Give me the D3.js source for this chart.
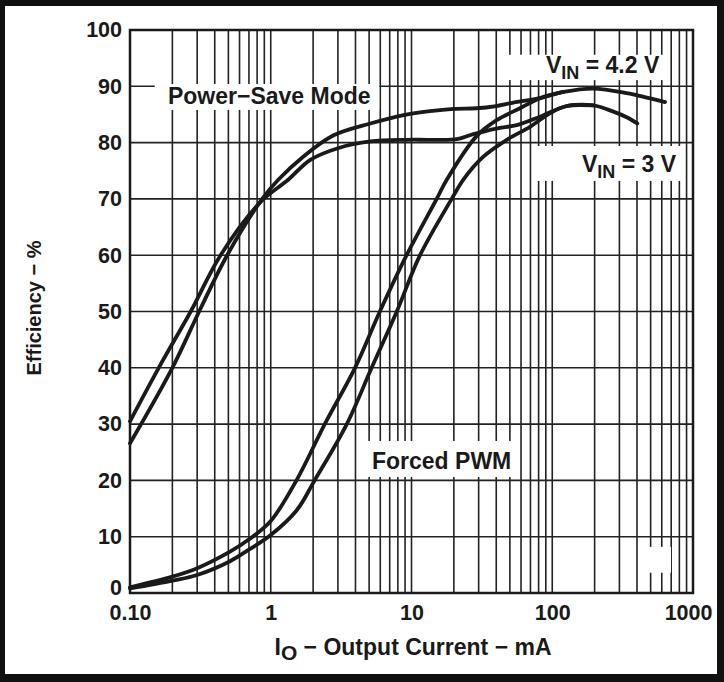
<!DOCTYPE html>
<html>
<head>
<meta charset="utf-8">
<script src="https://cdn.jsdelivr.net/npm/d3@7"></script>
<style>
  body { margin: 0; background: #111; }
  svg { display: block; }
  text { font-family: "Liberation Sans", Arial, sans-serif; font-weight: bold; fill: #1a1a1a; }
</style>
</head>
<body>
<svg id="chart" width="724" height="682"></svg>
<script>
// efficiency curves, [output current mA, efficiency %]
var psm42 = [[0.1, 26.6], [0.2, 40], [0.31, 50], [0.49, 60], [0.87, 70], [1.13, 73.4], [1.7, 77.5], [2.8, 81.3], [5.1, 83.4], [8.8, 84.9], [13.5, 85.6], [20, 86], [29, 86.1], [40, 86.5], [53, 87.1], [82, 87.9], [120, 89], [196, 89.6], [338, 88.8], [469, 88], [633, 87.2]];
var psm3 = [[0.1, 30.5], [0.16, 40], [0.27, 50], [0.44, 60], [0.85, 69.5], [1.33, 73.4], [1.9, 76.9], [3, 79], [5.1, 80.2], [9.2, 80.5], [13.5, 80.5], [21, 80.6], [27.5, 81.5], [40, 82.5], [56, 83.1], [82, 84.6], [127, 86.5], [196, 86.6], [272, 85.5], [338, 84.5], [402, 83.4]];
var pwm42 = [[0.1, 1], [0.2, 2.9], [0.3, 4.4], [0.51, 7.3], [0.69, 9.4], [1, 12.8], [1.53, 20.1], [2.42, 30], [3.97, 40], [5.96, 50], [9.23, 60], [15.1, 70], [17.8, 73.4], [29.1, 81.2], [40.3, 84], [59, 86.1], [82, 87.9], [120, 89]];
var pwm3 = [[0.1, 0.8], [0.2, 2.2], [0.3, 3.2], [0.51, 5.6], [0.69, 7.6], [1, 10.3], [1.53, 14.7], [2.06, 20.1], [3.47, 30], [5.21, 40], [7.86, 50], [11.5, 60], [19.3, 70], [23.3, 73.4], [32.4, 77.5], [47.5, 80.5], [69.5, 82.8], [96, 85.2], [127, 86.5], [196, 86.6]];

var xTicks = [0.1, 1, 10, 100, 1000];
var xTickLabels = ["0.10", "1", "10", "100", "1000"];
var yTicks = [0, 10, 20, 30, 40, 50, 60, 70, 80, 90, 100];

var svg = d3.select("#chart");
var L = 130, T = 30, W = 563, H = 563;

var x = d3.scaleLog().domain([0.1, 1000]).range([L, L + W]);
var y = d3.scaleLinear().domain([0, 100]).range([T + H, T]);

// white page inside the dark frame
svg.append("rect").attr("x", 5).attr("y", 6).attr("width", 712).attr("height", 668).attr("fill", "#fff");

// grid
var grid = svg.append("g").attr("stroke", "#222").attr("stroke-width", 1.6);
grid.selectAll(".gx").data(x.ticks()).enter().append("line")
  .attr("x1", d => x(d)).attr("x2", d => x(d)).attr("y1", T).attr("y2", T + H);
grid.selectAll(".gy").data(yTicks).enter().append("line")
  .attr("x1", L).attr("x2", L + W).attr("y1", d => y(d)).attr("y2", d => y(d));

// white boxes behind the labels (they cut the grid)
var boxes = [
  [0.15, 5.9, 90.4, 85.8],
  [49, 653, 95.6, 91.1],
  [78, 877, 79.4, 73.2],
  [4.6, 57, 27, 20.6],
  [471, 698, 8.2, 3.6]
];
svg.append("g").selectAll("rect").data(boxes).enter().append("rect")
  .attr("x", d => x(d[0])).attr("width", d => x(d[1]) - x(d[0]))
  .attr("y", d => y(d[2])).attr("height", d => y(d[3]) - y(d[2]))
  .attr("fill", "#fff");

// curves
var line = d3.line().x(d => x(d[0])).y(d => y(d[1])).curve(d3.curveCatmullRom.alpha(0.5));
svg.append("g").selectAll("path").data([psm42, psm3, pwm42, pwm3]).enter().append("path")
  .attr("d", line).attr("fill", "none").attr("stroke", "#1a1a1a").attr("stroke-width", 3.8)
  .attr("stroke-linecap", "round");

// frame
svg.append("rect").attr("x", L).attr("y", T).attr("width", W).attr("height", H)
  .attr("fill", "none").attr("stroke", "#1a1a1a").attr("stroke-width", 2.5);

// axes
var yAxis = svg.append("g").attr("transform", "translate(" + L + ",0)")
  .call(d3.axisLeft(y).tickValues(yTicks).tickSize(0).tickPadding(8));
var xAxis = svg.append("g").attr("transform", "translate(0," + (T + H) + ")")
  .call(d3.axisBottom(x).tickValues(xTicks).tickSize(0).tickPadding(12).tickFormat((d, i) => xTickLabels[i]));
[yAxis, xAxis].forEach(a => {
  a.select(".domain").remove();
  a.selectAll("text").attr("font-size", 21.5).attr("font-family", null).attr("fill", "#1a1a1a");
});
yAxis.selectAll(".tick text").filter(d => d === 0).attr("dy", "0.06em");
xAxis.selectAll(".tick text").filter(d => d === 1000).attr("text-anchor", "end").attr("x", 19);

// axis titles
svg.append("text").attr("transform", "translate(41,308) rotate(-90)")
  .attr("text-anchor", "middle").attr("font-size", 20).text("Efficiency − %");

var xt = svg.append("text").attr("x", 413).attr("y", 655).attr("text-anchor", "middle").attr("font-size", 23);
xt.append("tspan").text("I");
xt.append("tspan").attr("dy", 5).attr("font-size", 21).text("O");
xt.append("tspan").attr("dy", -5).text(" − Output Current − mA");

// labels
svg.append("text").attr("x", x(0.186)).attr("y", y(86.9)).attr("font-size", 23).text("Power−Save Mode");
svg.append("text").attr("x", x(5.24)).attr("y", y(22)).attr("font-size", 23).text("Forced PWM");

function vin (v, xv, yv) {
  var t = svg.append("text").attr("x", x(xv)).attr("y", y(yv)).attr("font-size", 23);
  t.append("tspan").text("V");
  t.append("tspan").attr("dy", 6).attr("font-size", 18).text("IN");
  t.append("tspan").attr("dy", -6).text(" = " + v + " V");
}
vin("4.2", 90.3, 92.4);
vin("3", 162.6, 74.7);
</script>
</body>
</html>
